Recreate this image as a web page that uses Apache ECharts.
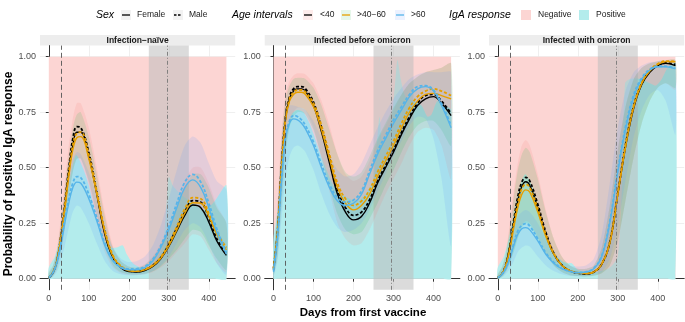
<!DOCTYPE html>
<html>
<head>
<meta charset="utf-8">
<script src="https://cdn.jsdelivr.net/npm/echarts@6/dist/echarts.min.js"></script>
<style>
  html, body { margin: 0; padding: 0; background: #fff; }
  #chart { width: 685px; height: 322px; }
</style>
</head>
<body>
<div id="chart"></div>
<script>
// days on which the fitted curves are read
const days = [0, 10, 20, 30, 40, 50, 60, 70, 80, 100, 120, 140, 160, 180, 200, 220, 240, 260, 280, 300, 320, 340, 360, 380, 400, 420, 444]
const xTicks = [0, 100, 200, 300, 400]
const yTicks = [0, 0.25, 0.5, 0.75, 1]
const panelTitles = ['Infection\u2212naïve', 'Infected before omicron', 'Infected with omicron']
const negDays = [0, 444]
const negTop = [1, 1]
const omicronBand = [250, 350]
const firstDose = 30
const omicronStart = 295

// Infection-naive
const naiveFemLt40 = [0.005, 0.025, 0.075, 0.18, 0.32, 0.48, 0.6, 0.66, 0.66, 0.55, 0.38, 0.2, 0.095, 0.05, 0.032, 0.03, 0.037, 0.055, 0.09, 0.145, 0.215, 0.285, 0.332, 0.32, 0.255, 0.17, 0.105]
const naiveMaleLt40 = [0.005, 0.026, 0.08, 0.19, 0.34, 0.5, 0.63, 0.685, 0.68, 0.57, 0.39, 0.21, 0.1, 0.053, 0.035, 0.033, 0.04, 0.06, 0.095, 0.155, 0.228, 0.3, 0.352, 0.345, 0.275, 0.18, 0.11]
const naiveFemMid = [0.006, 0.027, 0.078, 0.18, 0.31, 0.46, 0.58, 0.635, 0.64, 0.54, 0.38, 0.21, 0.1, 0.055, 0.036, 0.033, 0.04, 0.058, 0.092, 0.148, 0.22, 0.295, 0.342, 0.34, 0.28, 0.2, 0.13]
const naiveMaleMid = [0.006, 0.028, 0.08, 0.19, 0.33, 0.48, 0.6, 0.655, 0.66, 0.56, 0.395, 0.22, 0.107, 0.058, 0.04, 0.036, 0.043, 0.062, 0.098, 0.158, 0.235, 0.315, 0.365, 0.36, 0.295, 0.21, 0.14]
const naiveFemGt60 = [0.006, 0.025, 0.07, 0.15, 0.25, 0.34, 0.41, 0.435, 0.43, 0.36, 0.26, 0.15, 0.08, 0.05, 0.04, 0.04, 0.05, 0.08, 0.14, 0.22, 0.32, 0.41, 0.445, 0.41, 0.32, 0.21, 0.11]
const naiveMaleGt60 = [0.006, 0.026, 0.075, 0.16, 0.27, 0.36, 0.43, 0.46, 0.455, 0.38, 0.275, 0.16, 0.085, 0.053, 0.044, 0.045, 0.055, 0.087, 0.15, 0.235, 0.34, 0.435, 0.47, 0.435, 0.34, 0.225, 0.12]
const naiveLoLt40 = [0, 0.01, 0.04, 0.11, 0.22, 0.36, 0.48, 0.54, 0.54, 0.43, 0.27, 0.12, 0.05, 0.025, 0.018, 0.017, 0.02, 0.03, 0.05, 0.08, 0.12, 0.16, 0.2, 0.19, 0.13, 0.07, 0.03]
const naiveHiLt40 = [0.03, 0.06, 0.13, 0.27, 0.44, 0.6, 0.72, 0.79, 0.79, 0.68, 0.5, 0.3, 0.15, 0.08, 0.055, 0.05, 0.065, 0.1, 0.16, 0.24, 0.34, 0.44, 0.5, 0.5, 0.43, 0.33, 0.25]
const naiveLoMid = [0.001, 0.012, 0.045, 0.12, 0.23, 0.37, 0.48, 0.54, 0.54, 0.44, 0.29, 0.14, 0.06, 0.03, 0.02, 0.019, 0.022, 0.033, 0.055, 0.09, 0.13, 0.18, 0.22, 0.21, 0.15, 0.09, 0.04]
const naiveHiMid = [0.025, 0.055, 0.12, 0.25, 0.41, 0.56, 0.68, 0.74, 0.75, 0.64, 0.47, 0.28, 0.14, 0.08, 0.055, 0.05, 0.063, 0.095, 0.15, 0.23, 0.32, 0.41, 0.47, 0.47, 0.41, 0.32, 0.25]
const naiveLoGt60 = [0, 0.008, 0.03, 0.08, 0.15, 0.23, 0.3, 0.33, 0.32, 0.25, 0.16, 0.08, 0.035, 0.02, 0.015, 0.016, 0.02, 0.035, 0.06, 0.1, 0.16, 0.22, 0.25, 0.23, 0.16, 0.07, 0.02]
const naiveHiGt60 = [0.02, 0.05, 0.12, 0.23, 0.35, 0.46, 0.54, 0.57, 0.56, 0.48, 0.37, 0.24, 0.14, 0.09, 0.075, 0.08, 0.1, 0.15, 0.24, 0.36, 0.49, 0.6, 0.64, 0.61, 0.52, 0.44, 0.4]
const naivePosDays = [0, 15, 30, 50, 68, 85, 100, 120, 140, 155, 170, 185, 195, 210, 230, 250, 270, 285, 293, 300, 310, 330, 360, 390, 415, 444]
const naivePos = [0.05, 0.1, 0.2, 0.42, 0.557, 0.5, 0.42, 0.27, 0.17, 0.14, 0.14, 0.15, 0.11, 0.07, 0.05, 0.04, 0.08, 0.15, 0.3, 0.46, 0.42, 0.38, 0.34, 0.31, 0.35, 0.42]

// Infected before omicron
const priorFemLt40 = [0.04, 0.2, 0.5, 0.72, 0.81, 0.845, 0.855, 0.855, 0.845, 0.78, 0.66, 0.52, 0.38, 0.3, 0.265, 0.28, 0.34, 0.43, 0.5, 0.57, 0.65, 0.72, 0.78, 0.81, 0.82, 0.79, 0.735]
const priorMaleLt40 = [0.045, 0.21, 0.51, 0.73, 0.82, 0.855, 0.865, 0.865, 0.855, 0.795, 0.68, 0.54, 0.4, 0.32, 0.285, 0.3, 0.355, 0.44, 0.51, 0.58, 0.66, 0.73, 0.79, 0.825, 0.83, 0.8, 0.745]
const priorFemMid = [0.04, 0.2, 0.49, 0.71, 0.8, 0.83, 0.84, 0.84, 0.83, 0.775, 0.67, 0.54, 0.41, 0.34, 0.31, 0.33, 0.38, 0.46, 0.53, 0.6, 0.68, 0.75, 0.8, 0.83, 0.835, 0.825, 0.81]
const priorMaleMid = [0.045, 0.21, 0.5, 0.72, 0.81, 0.84, 0.85, 0.85, 0.84, 0.79, 0.69, 0.56, 0.43, 0.36, 0.33, 0.35, 0.4, 0.48, 0.55, 0.62, 0.7, 0.77, 0.82, 0.845, 0.855, 0.845, 0.825]
const priorFemGt60 = [0.03, 0.18, 0.44, 0.63, 0.7, 0.72, 0.715, 0.7, 0.675, 0.6, 0.5, 0.41, 0.35, 0.33, 0.34, 0.38, 0.47, 0.56, 0.63, 0.7, 0.76, 0.82, 0.855, 0.865, 0.845, 0.78, 0.68]
const priorMaleGt60 = [0.035, 0.19, 0.45, 0.64, 0.71, 0.735, 0.73, 0.715, 0.69, 0.615, 0.515, 0.425, 0.365, 0.345, 0.355, 0.395, 0.485, 0.575, 0.645, 0.715, 0.775, 0.83, 0.865, 0.87, 0.85, 0.79, 0.69]
const priorLoLt40 = [0.015, 0.1, 0.33, 0.57, 0.69, 0.75, 0.77, 0.77, 0.76, 0.68, 0.54, 0.39, 0.25, 0.18, 0.15, 0.16, 0.22, 0.3, 0.38, 0.45, 0.52, 0.6, 0.66, 0.68, 0.67, 0.6, 0.45]
const priorHiLt40 = [0.09, 0.33, 0.65, 0.83, 0.89, 0.915, 0.925, 0.925, 0.92, 0.88, 0.8, 0.69, 0.56, 0.47, 0.44, 0.46, 0.53, 0.62, 0.69, 0.76, 0.83, 0.88, 0.91, 0.93, 0.94, 0.95, 0.97]
const priorLoMid = [0.015, 0.1, 0.33, 0.56, 0.68, 0.73, 0.75, 0.75, 0.74, 0.67, 0.55, 0.41, 0.29, 0.22, 0.2, 0.21, 0.27, 0.34, 0.42, 0.49, 0.57, 0.64, 0.69, 0.71, 0.71, 0.67, 0.6]
const priorHiMid = [0.09, 0.32, 0.63, 0.81, 0.87, 0.9, 0.905, 0.905, 0.9, 0.86, 0.78, 0.67, 0.56, 0.48, 0.46, 0.48, 0.55, 0.63, 0.7, 0.77, 0.83, 0.88, 0.91, 0.93, 0.94, 0.95, 0.97]
const priorLoGt60 = [0.01, 0.08, 0.27, 0.45, 0.55, 0.59, 0.6, 0.59, 0.57, 0.49, 0.38, 0.29, 0.23, 0.21, 0.22, 0.25, 0.31, 0.39, 0.47, 0.55, 0.62, 0.69, 0.73, 0.72, 0.63, 0.45, 0.15]
const priorHiGt60 = [0.08, 0.3, 0.6, 0.75, 0.78, 0.78, 0.775, 0.77, 0.76, 0.71, 0.63, 0.55, 0.49, 0.46, 0.47, 0.52, 0.6, 0.68, 0.75, 0.81, 0.86, 0.9, 0.92, 0.93, 0.93, 0.93, 0.93]
const priorPosDays = [0, 10, 20, 30, 45, 60, 75, 90, 110, 130, 150, 170, 190, 210, 230, 250, 258, 265, 272, 280, 295, 305, 310, 318, 330, 350, 370, 385, 395, 410, 425, 444]
const priorPos = [0.18, 0.3, 0.5, 0.65, 0.74, 0.76, 0.75, 0.7, 0.6, 0.5, 0.42, 0.38, 0.36, 0.35, 0.38, 0.45, 0.6, 0.73, 0.6, 0.62, 0.72, 0.9, 0.985, 0.9, 0.82, 0.8, 0.78, 0.73, 0.74, 0.8, 0.78, 0.76]

// Infected with omicron
const omiFemLt40 = [0.005, 0.02, 0.06, 0.14, 0.25, 0.35, 0.415, 0.437, 0.42, 0.32, 0.2, 0.11, 0.06, 0.035, 0.025, 0.022, 0.03, 0.065, 0.16, 0.38, 0.6, 0.77, 0.875, 0.93, 0.96, 0.97, 0.96]
const omiMaleLt40 = [0.005, 0.021, 0.064, 0.15, 0.265, 0.37, 0.435, 0.456, 0.44, 0.335, 0.21, 0.115, 0.062, 0.036, 0.025, 0.022, 0.03, 0.066, 0.165, 0.385, 0.61, 0.78, 0.88, 0.935, 0.962, 0.972, 0.965]
const omiFemMid = [0.006, 0.02, 0.058, 0.13, 0.23, 0.32, 0.38, 0.4, 0.39, 0.3, 0.19, 0.11, 0.06, 0.036, 0.026, 0.023, 0.03, 0.065, 0.16, 0.38, 0.6, 0.775, 0.88, 0.935, 0.965, 0.978, 0.977]
const omiMaleMid = [0.006, 0.021, 0.061, 0.14, 0.245, 0.34, 0.405, 0.425, 0.41, 0.315, 0.2, 0.115, 0.062, 0.037, 0.027, 0.024, 0.031, 0.067, 0.165, 0.385, 0.61, 0.78, 0.885, 0.94, 0.968, 0.98, 0.979]
const omiFemGt60 = [0.005, 0.018, 0.045, 0.09, 0.15, 0.2, 0.225, 0.23, 0.22, 0.17, 0.11, 0.07, 0.045, 0.032, 0.027, 0.03, 0.045, 0.1, 0.25, 0.48, 0.68, 0.82, 0.9, 0.94, 0.955, 0.955, 0.945]
const omiMaleGt60 = [0.005, 0.019, 0.048, 0.095, 0.16, 0.215, 0.24, 0.248, 0.237, 0.18, 0.117, 0.074, 0.047, 0.034, 0.028, 0.031, 0.047, 0.105, 0.26, 0.49, 0.69, 0.83, 0.905, 0.943, 0.957, 0.957, 0.948]
const omiLoLt40 = [0, 0.008, 0.03, 0.07, 0.13, 0.19, 0.24, 0.26, 0.25, 0.19, 0.11, 0.06, 0.03, 0.016, 0.012, 0.01, 0.013, 0.025, 0.06, 0.17, 0.36, 0.55, 0.7, 0.8, 0.86, 0.88, 0.85]
const omiHiLt40 = [0.02, 0.05, 0.12, 0.25, 0.4, 0.52, 0.6, 0.625, 0.6, 0.47, 0.31, 0.18, 0.1, 0.06, 0.045, 0.045, 0.06, 0.14, 0.33, 0.58, 0.78, 0.9, 0.95, 0.97, 0.98, 0.985, 0.985]
const omiLoMid = [0, 0.008, 0.03, 0.07, 0.12, 0.18, 0.23, 0.25, 0.24, 0.18, 0.11, 0.06, 0.03, 0.016, 0.012, 0.01, 0.013, 0.025, 0.06, 0.17, 0.36, 0.55, 0.7, 0.8, 0.86, 0.88, 0.86]
const omiHiMid = [0.02, 0.05, 0.11, 0.23, 0.37, 0.49, 0.56, 0.59, 0.57, 0.45, 0.3, 0.18, 0.1, 0.06, 0.045, 0.045, 0.06, 0.14, 0.33, 0.58, 0.78, 0.9, 0.95, 0.97, 0.98, 0.985, 0.985]
const omiLoGt60 = [0, 0.006, 0.02, 0.045, 0.08, 0.12, 0.14, 0.15, 0.145, 0.1, 0.06, 0.035, 0.02, 0.013, 0.01, 0.011, 0.015, 0.03, 0.09, 0.24, 0.45, 0.64, 0.76, 0.83, 0.85, 0.8, 0.65]
const omiHiGt60 = [0.015, 0.04, 0.09, 0.16, 0.23, 0.28, 0.3, 0.31, 0.3, 0.25, 0.18, 0.12, 0.08, 0.06, 0.055, 0.06, 0.09, 0.2, 0.43, 0.68, 0.85, 0.93, 0.96, 0.975, 0.98, 0.98, 0.98]
const omiPosDays = [0, 15, 30, 50, 68, 85, 100, 120, 140, 160, 175, 185, 200, 220, 250, 280, 300, 310, 318, 330, 360, 380, 395, 410, 425, 444]
const omiPos = [0.05, 0.1, 0.2, 0.38, 0.47, 0.42, 0.33, 0.2, 0.12, 0.08, 0.07, 0.07, 0.04, 0.03, 0.03, 0.05, 0.1, 0.4, 0.88, 0.9, 0.9, 0.88, 0.87, 0.9, 0.95, 0.97]

const ageColors = ['#000000', '#E69F00', '#56B4E9']
const ribbonColors = ['rgba(248,118,109,0.13)', 'rgba(0,186,56,0.12)', 'rgba(97,156,255,0.15)']
const negColor = '#FCD5D3'
const posColor = '#B3ECEC'
const font = 'Liberation Sans'

const panels = [
  {
    lines: [[naiveFemLt40, naiveMaleLt40], [naiveFemMid, naiveMaleMid], [naiveFemGt60, naiveMaleGt60]],
    ribbons: [[naiveLoLt40, naiveHiLt40], [naiveLoMid, naiveHiMid], [naiveLoGt60, naiveHiGt60]],
    posDays: naivePosDays, pos: naivePos,
  },
  {
    lines: [[priorFemLt40, priorMaleLt40], [priorFemMid, priorMaleMid], [priorFemGt60, priorMaleGt60]],
    ribbons: [[priorLoLt40, priorHiLt40], [priorLoMid, priorHiMid], [priorLoGt60, priorHiGt60]],
    posDays: priorPosDays, pos: priorPos,
  },
  {
    lines: [[omiFemLt40, omiMaleLt40], [omiFemMid, omiMaleMid], [omiFemGt60, omiMaleGt60]],
    ribbons: [[omiLoLt40, omiHiLt40], [omiLoMid, omiHiMid], [omiLoGt60, omiHiGt60]],
    posDays: omiPosDays, pos: omiPos,
  },
]

const gridLefts = [40, 264.7, 489]
const gridW = 195.2
const gridTop = 45.6
const gridH = 244.2

const pairs = (xs, ys) => xs.map((x, k) => [x, ys[k]])

// filled band between lo and hi, drawn once as a polygon through the axis scales
function bandSeries(i, xs, lo, hi, fill, z, smooth) {
  return {
    type: 'custom', xAxisIndex: i, yAxisIndex: i, z, silent: true, animation: false,
    data: xs.map((x, k) => [x, lo[k], hi[k]]),
    encode: { x: 0, y: [1, 2] },
    renderItem: (params, api) => {
      if (params.dataIndex !== 0) return null
      const top = xs.map((x, k) => api.coord([x, hi[k]]))
      const bot = xs.map((x, k) => api.coord([x, lo[k]])).reverse()
      return {
        type: 'polygon',
        shape: { points: top.concat(bot), smooth },
        style: { fill },
      }
    },
  }
}

function panelSeries(p, i) {
  const out = []
  out.push(bandSeries(i, negDays, [0, 0], negTop, negColor, 1, 0))
  out.push(bandSeries(i, p.posDays, p.posDays.map(() => 0), p.pos, posColor, 1, 0.25))
  const band = bandSeries(i, omicronBand, [-0.05, -0.05], [1.05, 1.05], 'rgba(190,190,190,0.55)', 2, 0)
  band.markLine = {
    silent: true, symbol: ['none', 'none'], label: { show: false }, animation: false,
    data: [
      { xAxis: firstDose, lineStyle: { color: '#555', width: 0.9, type: [5, 3] } },
      { xAxis: omicronStart, lineStyle: { color: '#777', width: 0.9, type: [4, 2, 1, 2] } },
    ],
  }
  out.push(band)
  p.ribbons.forEach(([lo, hi], a) => {
    out.push(bandSeries(i, days, lo, hi, ribbonColors[a], 3, 0.25))
  })
  const base = { type: 'line', xAxisIndex: i, yAxisIndex: i, symbol: 'none', silent: true, animation: false, z: 4, smooth: 0.4 }
  p.lines.forEach(([fem, male], a) => {
    out.push({ ...base, data: pairs(days, fem), lineStyle: { color: ageColors[a], width: 1.4 } })
    out.push({ ...base, data: pairs(days, male), lineStyle: { color: ageColors[a], width: 1.8, type: [3, 2] } })
  })
  return out
}

const graphics = []
// strips
panelTitles.forEach((t, i) => {
  graphics.push({ type: 'rect', shape: { x: gridLefts[i], y: 35, width: gridW, height: 10.6 }, style: { fill: '#EDEDED' }, silent: true })
  graphics.push({ type: 'text', x: gridLefts[i] + gridW / 2, y: 40.5, style: { text: t, font: 'bold 8.5px ' + font, fill: '#1a1a1a', textAlign: 'center', textVerticalAlign: 'middle' } })
})
// axis titles
graphics.push({ type: 'text', x: 9, y: 174, rotation: Math.PI / 2, style: { text: 'Probability of positive IgA response', font: 'bold 12px ' + font, fill: '#000', textAlign: 'center', textVerticalAlign: 'middle' } })
graphics.push({ type: 'text', x: 363, y: 313, style: { text: 'Days from first vaccine', font: 'bold 11.5px ' + font, fill: '#000', textAlign: 'center', textVerticalAlign: 'middle' } })

// legend
const ly = 15
function legTitle(x, t) {
  graphics.push({ type: 'text', x, y: ly, style: { text: t, font: 'italic 10.5px ' + font, fill: '#000', textVerticalAlign: 'middle' } })
}
function legLabel(x, t) {
  graphics.push({ type: 'text', x, y: ly, style: { text: t, font: '8.5px ' + font, fill: '#1a1a1a', textVerticalAlign: 'middle' } })
}
function legKey(x, bg, lineColor, dashed) {
  graphics.push({ type: 'rect', shape: { x, y: ly - 5, width: 10, height: 10 }, style: { fill: bg } })
  if (lineColor) {
    graphics.push({ type: 'line', shape: { x1: x + 1, y1: ly, x2: x + 9, y2: ly }, style: { stroke: lineColor, lineWidth: dashed ? 1.6 : 1.3, lineDash: dashed ? [2.5, 1.5] : null } })
  }
}
legTitle(96, 'Sex')
legKey(121, '#F2F2F2', '#000', false); legLabel(137, 'Female')
legKey(173, '#F2F2F2', '#000', true); legLabel(189, 'Male')
legTitle(232, 'Age intervals')
legKey(303, '#FEEDEC', ageColors[0], false); legLabel(320, '<40')
legKey(341, '#E6F7EA', ageColors[1], false); legLabel(357, '>40\u221260')
legKey(395, '#ECF2FF', ageColors[2], false); legLabel(411, '>60')
legTitle(449, 'IgA response')
legKey(521, negColor); legLabel(538, 'Negative')
legKey(579, posColor); legLabel(596, 'Positive')

const option = {
  animation: false,
  textStyle: { fontFamily: font },
  grid: gridLefts.map(l => ({ left: l, top: gridTop, width: gridW, height: gridH })),
  xAxis: gridLefts.map((l, i) => ({
    type: 'value', gridIndex: i, min: -22, max: 466,
    axisLine: { show: true, lineStyle: { color: '#333', width: 1 } },
    axisTick: { show: true, length: 3, customValues: xTicks, lineStyle: { color: '#333' } },
    axisLabel: { customValues: xTicks, color: '#4d4d4d', fontSize: 9, margin: 4 },
    splitLine: { show: true, customValues: xTicks, lineStyle: { color: '#EBEBEB', width: 0.8 } },
  })),
  yAxis: gridLefts.map((l, i) => ({
    type: 'value', gridIndex: i, min: -0.05, max: 1.05,
    axisLine: { show: true, lineStyle: { color: '#333', width: 1 } },
    axisTick: { show: true, length: 3, customValues: yTicks, lineStyle: { color: '#333' } },
    axisLabel: { customValues: yTicks, color: '#4d4d4d', fontSize: 9, margin: 4, formatter: v => v.toFixed(2) },
    splitLine: { show: true, customValues: yTicks, lineStyle: { color: '#EBEBEB', width: 0.8 } },
  })),
  series: panels.flatMap((p, i) => panelSeries(p, i)),
  graphic: graphics,
}

const chart = echarts.init(document.getElementById('chart'), null, { renderer: 'canvas' })
chart.setOption(option)
</script>
</body>
</html>
